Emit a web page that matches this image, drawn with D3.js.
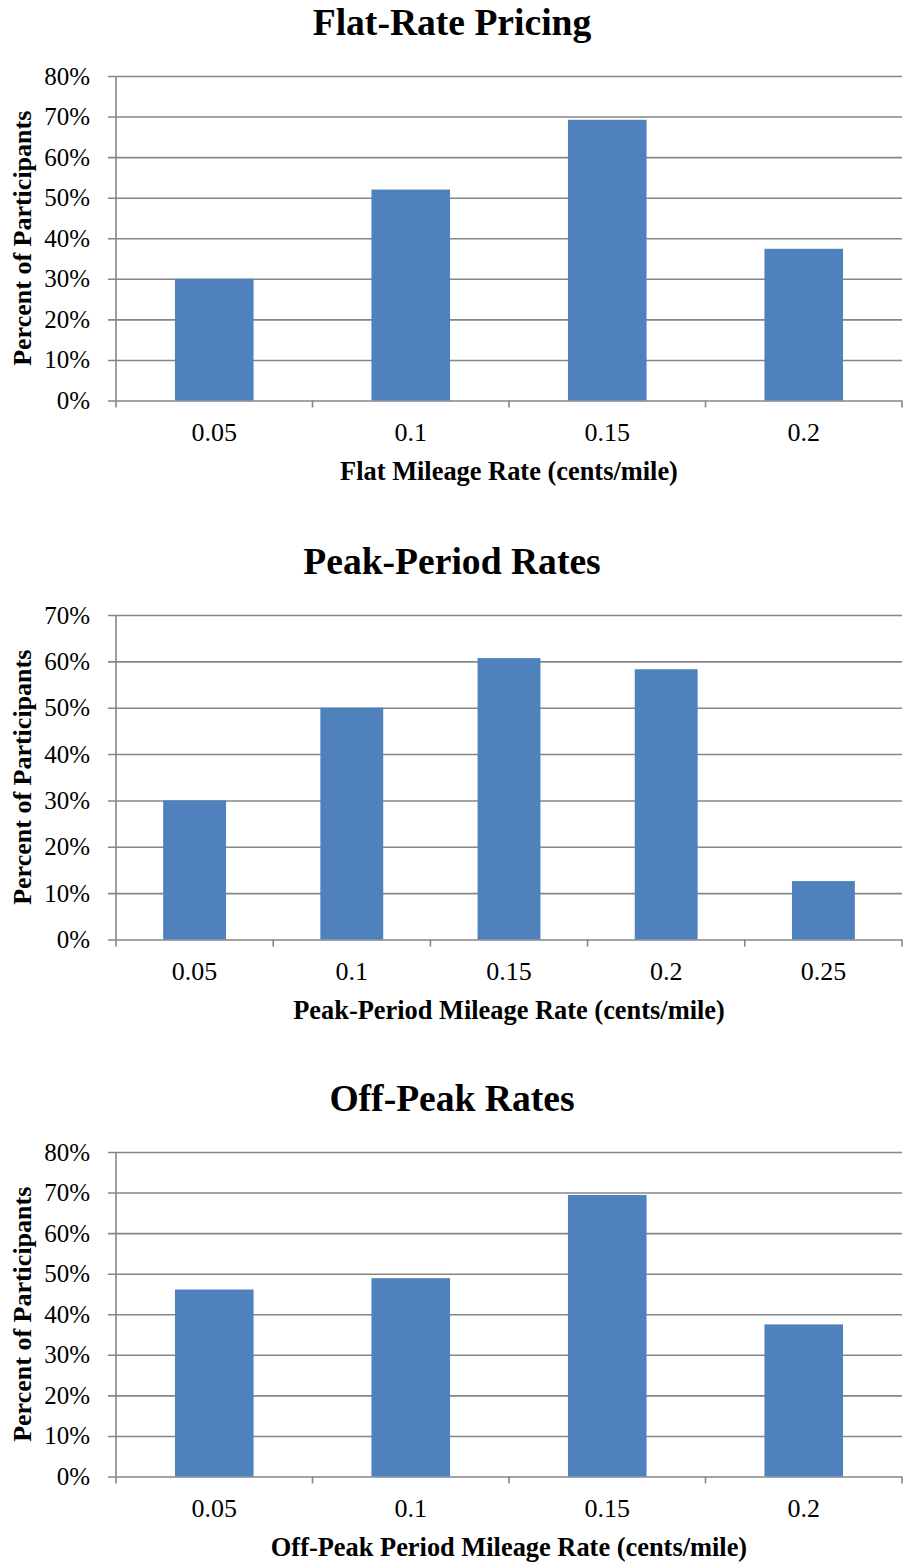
<!DOCTYPE html>
<html>
<head>
<meta charset="utf-8">
<script src="https://cdn.jsdelivr.net/npm/d3@7"></script>
<style>
  body { margin: 0; background: #fff; }
  svg { display: block; font-family: "Liberation Serif", "Times New Roman", serif; }
</style>
</head>
<body>
<div id="chart"></div>
<script>
// chart data
const flatRates = ["0.05", "0.1", "0.15", "0.2"];
const flatPct = [30, 52, 69.2, 37.4];

const peakRates = ["0.05", "0.1", "0.15", "0.2", "0.25"];
const peakPct = [30, 50, 60.7, 58.3, 12.6];

const offRates = ["0.05", "0.1", "0.15", "0.2"];
const offPct = [46.1, 48.9, 69.4, 37.5];

const chartTitles = ["Flat-Rate Pricing", "Peak-Period Rates", "Off-Peak Rates"];
const xTitles = ["Flat Mileage Rate (cents/mile)",
                 "Peak-Period Mileage Rate (cents/mile)",
                 "Off-Peak Period Mileage Rate (cents/mile)"];
const yMaxes = [80, 70, 80];

const width = 907, height = 1564;
const left = 116, right = 902;
const barColor = "#4f81bd", gridColor = "#868686";
const serif = "'Liberation Serif', 'Times New Roman', serif";

var svg = d3.select("#chart").append("svg")
    .attr("width", width)
    .attr("height", height);

// one panel per pricing scheme
function drawPanel(top, rates, values, title, xTitle, yMax) {
  var plotTop = top + 54, plotBottom = top + 378.5;
  var g = svg.append("g");

  var x = d3.scaleBand()
      .domain(rates)
      .range([left, right])
      .paddingInner(0.6)
      .paddingOuter(0.3);

  var y = d3.scaleLinear()
      .domain([0, yMax])
      .range([plotBottom, plotTop]);

  var yTicks = d3.range(0, yMax + 1, 10);

  g.append("text")
      .attr("x", 452)
      .attr("y", top + 13)
      .attr("text-anchor", "middle")
      .style("font-size", "37.6px")
      .style("font-weight", "bold")
      .text(title);

  // gridlines + y labels
  g.append("g")
      .attr("transform", "translate(108,0)")
      .call(d3.axisLeft(y).tickValues(yTicks)
            .tickSize(-(right - 108)).tickPadding(18)
            .tickFormat(d => d + "%"))
      .call(a => a.select(".domain").remove())
      .call(a => a.selectAll("line").attr("stroke", gridColor).attr("stroke-width", 1.6))
      .call(a => a.selectAll("text").style("font-size", "25px").attr("fill", "#000")
            .style("font-family", serif));

  g.append("line")
      .attr("x1", left).attr("x2", left)
      .attr("y1", plotTop).attr("y2", plotBottom)
      .attr("stroke", gridColor).attr("stroke-width", 1.6);

  g.selectAll("rect.bar")
      .data(values)
      .enter().append("rect")
      .attr("class", "bar")
      .attr("x", (d, i) => x(rates[i]))
      .attr("width", x.bandwidth())
      .attr("y", d => y(d))
      .attr("height", d => y(0) - y(d))
      .attr("fill", barColor);

  // category boundaries for the x tick marks
  var bounds = d3.range(rates.length + 1).map(i => left + i * x.step());
  g.selectAll("line.xtick")
      .data(bounds)
      .enter().append("line")
      .attr("class", "xtick")
      .attr("x1", d => d).attr("x2", d => d)
      .attr("y1", plotBottom).attr("y2", plotBottom + 7)
      .attr("stroke", gridColor).attr("stroke-width", 1.6);

  g.selectAll("text.xlab")
      .data(rates)
      .enter().append("text")
      .attr("class", "xlab")
      .attr("x", d => x(d) + x.bandwidth() / 2)
      .attr("y", plotBottom + 31)
      .attr("dy", "0.35em")
      .attr("text-anchor", "middle")
      .style("font-size", "26px")
      .text(d => d);

  g.append("text")
      .attr("x", (left + right) / 2)
      .attr("y", plotBottom + 70)
      .attr("dy", "0.35em")
      .attr("text-anchor", "middle")
      .style("font-size", "26.4px")
      .style("font-weight", "bold")
      .text(xTitle);

  g.append("text")
      .attr("transform", "translate(22," + (plotTop + plotBottom) / 2 + ")rotate(-90)")
      .attr("dy", "0.35em")
      .attr("text-anchor", "middle")
      .style("font-size", "26px")
      .style("font-weight", "bold")
      .text("Percent of Participants");
}

drawPanel(22, flatRates, flatPct, chartTitles[0], xTitles[0], yMaxes[0]);
drawPanel(561, peakRates, peakPct, chartTitles[1], xTitles[1], yMaxes[1]);
drawPanel(1098, offRates, offPct, chartTitles[2], xTitles[2], yMaxes[2]);
</script>
</body>
</html>
